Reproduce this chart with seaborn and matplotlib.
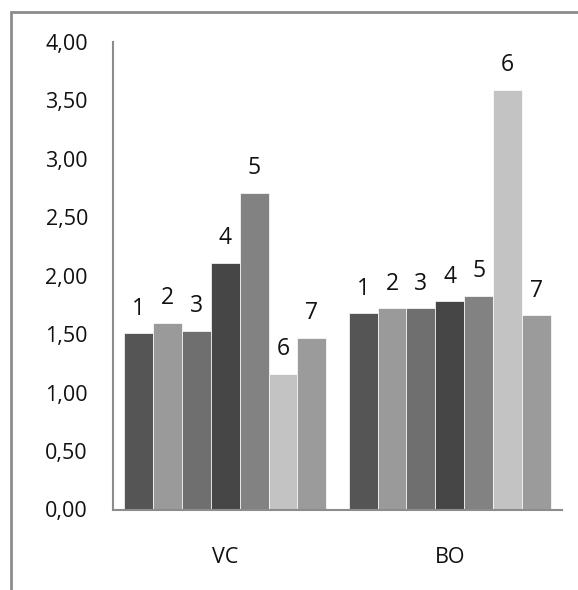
import matplotlib
matplotlib.use("Agg")
import matplotlib.pyplot as plt
import seaborn as sns
import pandas as pd
from matplotlib.patches import Rectangle
from matplotlib.ticker import FuncFormatter

groups = ["VC", "BO"]
series = ["1", "2", "3", "4", "5", "6", "7"]
vc_values = [1.51, 1.60, 1.53, 2.11, 2.71, 1.16, 1.47]
bo_values = [1.68, 1.72, 1.72, 1.78, 1.83, 3.59, 1.66]
colors = ["#555555", "#9a9a9a", "#6f6f6f", "#464646", "#828282", "#c3c3c3", "#9b9b9b"]
y_ticks = [0.0, 0.5, 1.0, 1.5, 2.0, 2.5, 3.0, 3.5, 4.0]

rows = []
for g, vals in zip(groups, [vc_values, bo_values]):
    for s, v in zip(series, vals):
        rows.append({"group": g, "series": s, "value": v})
df = pd.DataFrame(rows)

sns.set_theme(style="white")
plt.rcParams["font.family"] = ["Open Sans", "DejaVu Sans"]

W, H = 578, 590
fig = plt.figure(figsize=(W / 100, H / 100), dpi=100)
ax = fig.add_axes([113 / W, (H - 509.5) / H, (562 - 113) / W, (509.5 - 42) / H])

sns.barplot(data=df, x="group", y="value", hue="series", palette=colors,
            order=groups, hue_order=series, width=0.9, gap=0,
            edgecolor="white", linewidth=0.5, legend=False, ax=ax)

for cont, name in zip(ax.containers, series):
    ax.bar_label(cont, labels=[name] * len(cont), padding=9, fontsize=16.5,
                 color="#111111")

ax.set_ylim(0, 4)
ax.set_yticks(y_ticks)
ax.yaxis.set_major_formatter(FuncFormatter(lambda v, p: f"{v:.2f}".replace(".", ",")))
ax.set_xlabel("")
ax.set_ylabel("")
ax.tick_params(axis="y", length=0, pad=18, labelsize=15.5, labelcolor="#111111")
ax.tick_params(axis="x", length=0, pad=27, labelsize=15.5, labelcolor="#111111")
for side in ["top", "right"]:
    ax.spines[side].set_visible(False)
for side in ["left", "bottom"]:
    ax.spines[side].set_color("#8c8c8c")
    ax.spines[side].set_linewidth(1.5)

# outer chart frame
fig.patches.append(Rectangle((11 / W, -0.1), 1.2, (H - 12) / H + 0.1,
                             transform=fig.transFigure, fill=False,
                             edgecolor="#8c8c8c", linewidth=2))

fig.savefig("out.png", dpi=100)
